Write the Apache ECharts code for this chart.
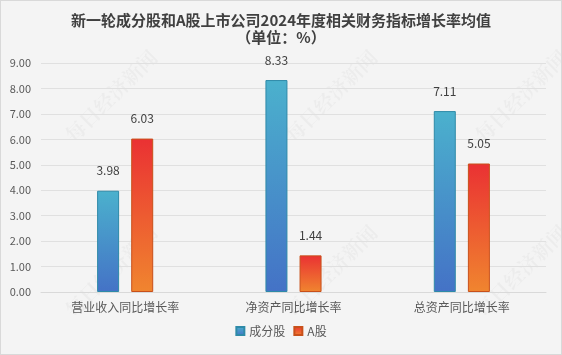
<!DOCTYPE html>
<html><head><meta charset="utf-8">
<script src="https://cdn.jsdelivr.net/npm/echarts@6/dist/echarts.min.js"></script>
<style>html,body{margin:0;padding:0;background:#f4f4f4}#c{width:560px;height:353px;border:1px solid #d9d9d9}</style>
</head><body><div id="c"></div>
<script>
const categories = ['营业收入同比增长率', '净资产同比增长率', '总资产同比增长率'];
const seriesNames = ['成分股', 'A股'];
const chengfen = [3.98, 8.33, 7.11];
const ashare = [6.03, 1.44, 5.05];
const titleLines = ['新一轮成分股和A股上市公司2024年度相关财务指标增长率均值', '（单位：%）'];

const chart = echarts.init(document.getElementById('c'));
const font = '"Microsoft YaHei","Noto Sans CJK SC",sans-serif';
const blueGrad = new echarts.graphic.LinearGradient(0,0,0,1,[{offset:0,color:'#4bb1cd'},{offset:1,color:'#4472c6'}]);
const orangeGrad = new echarts.graphic.LinearGradient(0,0,0,1,[{offset:0,color:'#ea3133'},{offset:1,color:'#f0852f'}]);
const wm = [];
[[110,95],[330,95],[520,95],[110,270],[330,270],[520,270]].forEach(p=>{
  wm.push({type:'text',x:p[0],y:p[1],rotation:Math.PI/4,z:-1,style:{text:'每日经济新闻',fill:'rgba(0,0,0,0.03)',font:'bold 20px "Noto Serif CJK SC","Noto Sans CJK SC"',align:'center',verticalAlign:'middle'}});
});
chart.setOption({
  backgroundColor:'#f4f4f4',
  animation:false,
  title:{text:titleLines.join('\n'),left:'center',top:6,textStyle:{fontFamily:font,fontSize:15,fontWeight:'bold',color:'#404040',lineHeight:17}},
  graphic:wm,
  legend:{bottom:12,left:'center',itemWidth:8,itemHeight:8,itemGap:8,icon:'rect',textStyle:{fontFamily:font,fontSize:12,color:'#595959'},data:seriesNames},
  grid:{left:40,right:15,top:62,bottom:62},
  xAxis:{type:'category',data:categories,axisTick:{show:false},axisLine:{lineStyle:{color:'#d9d9d9'}},axisLabel:{color:'#595959',fontFamily:font,fontSize:12,margin:9}},
  yAxis:{type:'value',min:0,max:9,interval:1,axisLabel:{formatter:v=>v.toFixed(2),color:'#595959',fontFamily:font,fontSize:11,margin:10},splitLine:{lineStyle:{color:'#e0e0e0'}},axisLine:{show:false}},
  series:[
    {name:seriesNames[0],type:'bar',data:chengfen,barWidth:22,barGap:'55%',itemStyle:{color:blueGrad,borderColor:'#2e8aa8',borderWidth:1},label:{show:true,position:'top',distance:14,formatter:p=>p.value.toFixed(2),color:'#404040',fontFamily:font,fontSize:12}},
    {name:seriesNames[1],type:'bar',data:ashare,barWidth:22,itemStyle:{color:orangeGrad,borderColor:'#c8501a',borderWidth:1},label:{show:true,position:'top',distance:14,formatter:p=>p.value.toFixed(2),color:'#404040',fontFamily:font,fontSize:12}}
  ]
});
</script></body></html>
